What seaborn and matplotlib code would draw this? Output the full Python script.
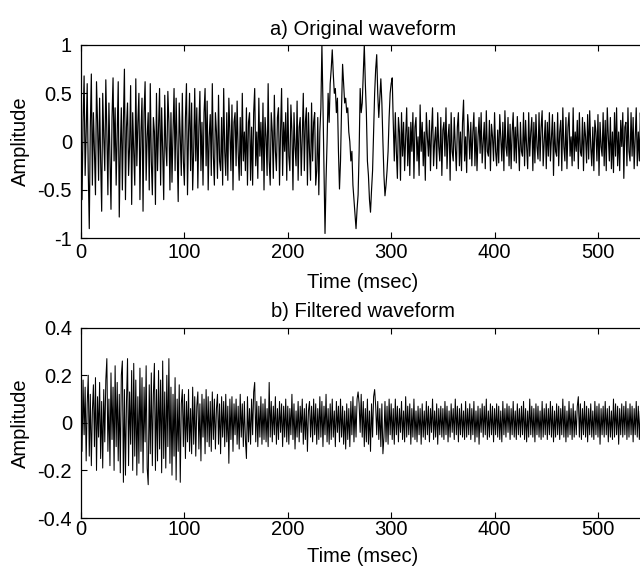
import numpy as np
import pandas as pd
import matplotlib
matplotlib.use("Agg")
import matplotlib.pyplot as plt
import seaborn as sns

# ---- data ----
step_a = 1.0   # ms between transcribed samples, top panel
step_b = 1.0   # ms between transcribed samples, bottom panel

original = [
    0.25, -0.6, 0.2, 0.68, -0.35, 0.1, 0.6, -0.3, -0.9, 0.15, 0.7, -0.45, 0.3, -0.1, -0.55, 0.62, 0.2, -0.4, 0.45, -0.2,
    -0.72, 0.5, 0.05, -0.3, 0.64, 0.1, -0.55, 0.4, -0.15, -0.7, 0.25, 0.66, -0.2, 0.35, -0.45, 0.1, 0.62, -0.78, -0.1, 0.35,
    -0.5, 0.2, 0.75, -0.6, 0.15, 0.4, -0.35, -0.05, 0.58, -0.65, 0.3, -0.1, -0.45, 0.65, -0.25, 0.2, 0.5, -0.6, 0.1, 0.45,
    -0.72, 0.3, 0.62, -0.4, 0.05, 0.3, -0.5, 0.6, -0.2, -0.55, 0.25, 0.1, -0.65, 0.5, -0.3, 0.15, 0.55, -0.45, 0.35, -0.1,
    -0.6, 0.48, -0.05, -0.25, 0.52, 0.2, -0.5, 0.3, -0.42, 0.1, 0.55, -0.3, 0.45, -0.1, -0.62, 0.4, 0.05, -0.35, 0.5, -0.2,
    -0.45, 0.25, 0.6, -0.55, 0.1, 0.5, -0.3, 0.4, -0.5, -0.1, 0.55, -0.2, 0.35, -0.48, 0.15, 0.52, -0.3, 0.2, -0.45, 0.3,
    0.55, -0.25, 0.42, -0.5, 0.05, 0.28, -0.35, 0.6, -0.15, -0.45, 0.3, 0.1, -0.38, 0.48, -0.2, -0.3, 0.25, -0.45, 0.55, -0.1,
    -0.35, 0.3, -0.4, 0.45, 0.1, -0.3, 0.38, -0.5, 0.2, 0.3, -0.25, 0.42, -0.1, -0.4, 0.25, -0.35, 0.5, -0.2, 0.1, -0.3,
    0.35, -0.45, 0.2, 0.3, -0.4, 0.15, -0.45, 0.3, 0.55, -0.25, 0.1, -0.38, 0.45, -0.15, 0.2, -0.3, 0.4, -0.5, 0.25, 0.05,
    -0.35, 0.6, -0.2, -0.45, 0.3, 0.1, -0.38, 0.48, -0.1, -0.3, 0.25, 0.35, -0.45, 0.1, 0.55, -0.35, 0.2, -0.1, 0.3, -0.4,
    0.45, -0.15, -0.3, 0.38, 0.1, -0.5, 0.3, -0.05, -0.25, 0.42, -0.4, 0.15, 0.25, -0.35, 0.05, 0.5, -0.3, 0.2, 0.35, -0.45,
    0.3, -0.1, -0.4, 0.4, -0.2, 0.2, 0.3, -0.45, -0.3, 0.25, -0.55, 0.1, 0.35, 1.0, 0.4, -0.3, -0.95, -0.4, 0.0, 0.5,
    0.2, 0.6, 0.75, 0.95, 0.7, 0.5, 0.55, 0.3, 0.45, -0.1, -0.49, -0.2, 0.35, 0.8, 0.6, 0.4, 0.45, 0.3, 0.35, 0.1,
    0.0, -0.2, -0.1, -0.45, -0.6, -0.75, -0.9, -0.7, -0.55, -0.1, 0.55, 0.3, 0.4, 0.7, 1.0, 0.6, 0.3, -0.2, -0.35, -0.6,
    -0.73, -0.5, -0.3, 0.1, 0.5, 0.75, 0.9, 0.5, 0.25, 0.45, 0.65, 0.4, 0.0, -0.35, -0.56, -0.45, -0.3, -0.1, 0.25, 0.5,
    0.6, 0.66, 0.2, -0.2, 0.3, -0.1, -0.38, 0.25, 0.1, -0.4, 0.3, -0.15, 0.2, -0.3, 0.05, 0.35, -0.25, 0.15, -0.35, 0.2,
    -0.1, 0.3, -0.38, 0.15, 0.25, -0.2, 0.05, -0.35, 0.38, -0.1, 0.2, -0.25, 0.1, -0.4, 0.3, 0.05, -0.15, 0.22, -0.3, 0.1,
    0.35, -0.25, 0.0, 0.15, -0.28, 0.3, -0.05, -0.2, 0.25, -0.35, 0.12, 0.2, -0.15, 0.35, -0.28, 0.05, 0.18, -0.4, 0.3, -0.1,
    -0.2, 0.25, -0.05, -0.3, 0.15, 0.3, -0.25, 0.1, -0.3, 0.2, 0.43, -0.2, 0.05, -0.32, 0.28, 0.1, -0.18, 0.2, -0.25, 0.1,
    0.3, -0.25, 0.15, -0.3, 0.05, 0.25, -0.12, 0.3, -0.22, 0.0, 0.2, -0.28, 0.32, -0.1, -0.15, 0.22, -0.3, 0.18, 0.05, -0.2,
    0.3, -0.1, -0.25, 0.12, -0.22, 0.28, 0.05, -0.2, 0.2, -0.3, 0.32, -0.05, -0.15, 0.25, -0.25, 0.18, -0.28, 0.1, 0.3, -0.2,
    0.15, -0.22, 0.26, 0.0, -0.3, 0.2, -0.1, -0.15, 0.3, -0.25, 0.22, -0.05, -0.28, 0.3, -0.15, 0.1, 0.25, -0.3, 0.2, -0.22,
    0.28, -0.05, -0.18, 0.3, -0.2, 0.15, 0.32, -0.25, 0.0, 0.22, -0.28, 0.2, -0.15, 0.3, -0.2, 0.05, 0.28, -0.35, 0.2, -0.1,
    -0.15, 0.3, -0.25, 0.1, 0.22, -0.3, 0.35, -0.05, -0.2, 0.25, -0.28, 0.15, 0.3, -0.15, 0.05, -0.25, 0.35, -0.2, 0.1, -0.1,
    0.22, -0.28, 0.3, -0.1, -0.15, 0.25, -0.3, 0.2, 0.05, -0.22, 0.28, -0.18, 0.32, -0.05, -0.25, 0.15, -0.3, 0.22, 0.1, -0.2,
    0.28, -0.35, 0.2, -0.05, -0.15, 0.3, -0.25, 0.22, -0.3, 0.35, 0.05, -0.2, 0.25, -0.28, 0.1, -0.32, 0.3, -0.15, 0.35, -0.25,
    0.1, -0.3, 0.22, -0.05, 0.3, -0.38, 0.15, 0.2, -0.25, 0.35, -0.1, -0.2, 0.3, -0.15, 0.25, -0.28, 0.05, 0.35, -0.25, 0.1,
    -0.2, 0.3, -0.1, 0.15, 0.05,
]

filtered = [
    0.10, -0.12, 0.18, -0.05, 0.15, -0.16, 0.08, 0.20, -0.14, 0.12, -0.18, 0.05, 0.16, -0.10, 0.19, -0.20, 0.11, -0.06, 0.17, -0.15, 0.09, -0.19, 0.14, -0.08, 0.18,
    0.27, -0.12, 0.10, -0.18, 0.21, -0.07, 0.15, -0.20, 0.24, -0.10, 0.17, -0.16, 0.12, -0.21, 0.20, 0.26, -0.25, 0.14, -0.22, 0.09, 0.27, -0.18, 0.13, -0.09, 0.22,
    -0.20, 0.25, -0.14, 0.18, -0.22, 0.11, -0.17, 0.23, -0.12, 0.19, -0.21, 0.15, -0.08, 0.24, -0.19, -0.26, 0.16, -0.13, 0.21, -0.18, 0.12, 0.25, -0.20, 0.14, -0.16,
    0.22, -0.11, 0.18, -0.21, 0.26, -0.15, 0.13, -0.19, 0.20, -0.10, 0.27, -0.17, 0.15, -0.22, 0.12, -0.14, 0.19, -0.24, 0.10, -0.12, 0.16, -0.25, 0.08, 0.14, -0.10,
    0.12, -0.15, 0.09, -0.08, 0.14, -0.12, 0.06, -0.13, 0.15, -0.09, 0.11, -0.14, 0.07, 0.13, -0.11, 0.08, -0.16, 0.12, -0.06, 0.10, -0.13, 0.14, -0.08, 0.11, -0.10,
    0.09, -0.12, 0.13, -0.07, 0.10, -0.11, 0.06, 0.12, -0.09, 0.08, -0.13, 0.11, -0.06, 0.09, -0.10, 0.12, -0.08, 0.07, -0.17, 0.10, -0.07, 0.11, -0.12, 0.08, -0.05,
    0.10, -0.09, 0.07, -0.11, 0.12, -0.06, 0.08, -0.10, 0.09, -0.07, -0.15, 0.11, -0.08, 0.06, -0.09, 0.10, -0.05, 0.13, 0.17, -0.08, 0.09, -0.10, 0.07, -0.06, 0.11,
    -0.09, 0.08, -0.07, 0.10, -0.08, 0.06, -0.10, 0.17, -0.06, 0.09, -0.08, 0.07, -0.05, 0.11, -0.09, 0.06, -0.07, 0.09, -0.04, 0.08, -0.10, 0.07, -0.06, 0.10, -0.08,
    0.07, -0.09, 0.06, -0.05, 0.12, -0.07, 0.08, -0.11, 0.05, -0.06, 0.09, -0.08, 0.07, -0.04, 0.10, -0.09, 0.06, -0.07, 0.08, -0.12, 0.05, 0.09, -0.06, 0.07, -0.08,
    0.10, -0.05, 0.08, -0.09, 0.06, -0.07, 0.11, -0.06, 0.09, -0.10, 0.07, -0.05, 0.12, -0.08, 0.06, -0.09, 0.08, -0.07, 0.10, -0.06, 0.05, -0.10, 0.09, -0.04, 0.07,
    -0.08, 0.10, -0.06, 0.07, -0.09, 0.05, -0.11, 0.08, -0.07, 0.06, -0.10, 0.09, -0.05, 0.11, -0.08, 0.07, -0.06, 0.10, 0.13, 0.08, -0.04, 0.12, -0.06, 0.09, -0.10,
    0.06, -0.08, 0.10, -0.09, 0.05, -0.12, 0.08, -0.06, 0.11, 0.14, 0.07, -0.05, 0.09, -0.07, 0.06, -0.10, 0.08, -0.13, -0.06, 0.09, -0.08, 0.07, -0.09, 0.10, -0.05,
    0.08, -0.07, 0.06, -0.09, 0.10, -0.05, 0.07, -0.08, 0.06, -0.04, 0.09, -0.07, 0.05, -0.08, 0.11, -0.06, 0.07, -0.05, 0.08, -0.09, 0.06, -0.06, 0.10, -0.07, 0.05,
    -0.08, 0.07, -0.05, 0.06, -0.09, 0.08, -0.06, 0.05, -0.07, 0.09, -0.05, 0.07, -0.08, 0.06, -0.04, 0.10, -0.07, 0.05, -0.06, 0.08, -0.09, 0.06, -0.05, 0.07, -0.06,
    0.06, -0.07, 0.09, -0.05, 0.07, -0.08, 0.05, -0.06, 0.08, -0.04, 0.06, -0.07, 0.10, -0.05, 0.07, -0.08, 0.06, -0.05, 0.08, -0.06, 0.05, -0.07, 0.09, -0.06, 0.06,
    -0.05, 0.08, -0.07, 0.06, -0.05, 0.09, -0.08, 0.05, -0.06, 0.07, -0.09, 0.06, -0.04, 0.08, -0.06, 0.07, -0.05, 0.10, -0.07, 0.05, -0.06, 0.08, -0.05, 0.07, -0.08,
    0.06, -0.05, 0.08, -0.06, 0.07, -0.07, 0.05, -0.08, 0.09, -0.05, 0.06, -0.06, 0.08, -0.04, 0.07, -0.07, 0.06, -0.05, 0.09, -0.06, 0.05, -0.07, 0.08, -0.05, 0.06,
    -0.06, 0.07, -0.05, 0.09, -0.07, 0.06, -0.08, 0.05, -0.06, 0.10, -0.05, 0.07, -0.06, 0.06, -0.08, 0.08, -0.05, 0.07, -0.06, 0.05, -0.07, 0.09, -0.06, 0.06, -0.05,
    0.08, -0.07, 0.06, -0.05, 0.09, -0.06, 0.07, -0.08, 0.05, -0.06, 0.08, -0.05, 0.07, -0.07, 0.06, -0.05, 0.10, -0.06, 0.07, -0.08, 0.05, -0.06, 0.09, -0.05, 0.06,
    -0.07, 0.08, -0.06, 0.05, -0.05, 0.07, 0.11, -0.06, 0.08, -0.07, 0.06, -0.05, 0.09, -0.06, 0.07, -0.08, 0.06, -0.05, 0.08, -0.06, 0.05, -0.07, 0.09, -0.05, 0.07,
    -0.06, 0.08, -0.09, 0.06, -0.05, 0.07, -0.06, 0.09, -0.05, 0.06, -0.08, 0.07, -0.06, 0.05, -0.07, 0.10, -0.06, 0.08, -0.05, 0.07, -0.09, 0.06, -0.05, 0.08, -0.06,
    0.07, -0.05, 0.09, -0.07, 0.06, -0.06, 0.08, -0.05, 0.07, -0.08, 0.06, -0.05, 0.09, -0.06, 0.07, -0.07, 0.05, -0.06, 0.08, -0.04,
]

titles = ["a) Original waveform", "b) Filtered waveform"]
xlabel = "Time (msec)"
ylabel = "Amplitude"
xticks = [0, 100, 200, 300, 400, 500]
yticks_a = [-1, -0.5, 0, 0.5, 1]
ytick_labels_a = ["-1", "-0.5", "0", "0.5", "1"]
yticks_b = [-0.4, -0.2, 0, 0.2, 0.4]
ytick_labels_b = ["-0.4", "-0.2", "0", "0.2", "0.4"]

df_a = pd.DataFrame({"t": np.arange(len(original)) * step_a, "amp": original})
df_b = pd.DataFrame({"t": np.arange(len(filtered)) * step_b, "amp": filtered})

# ---- style ----
sns.set_theme(style="white")
plt.rcParams["font.family"] = ["Liberation Sans", "DejaVu Sans"]
FS = 14.5

fig = plt.figure(figsize=(6.4, 5.67), dpi=100)
W, H = 640, 567
x0, x1 = 81, 644.5
ax_a = fig.add_axes([x0 / W, 1 - 238.3 / H, (x1 - x0) / W, (238.3 - 45) / H])
ax_b = fig.add_axes([x0 / W, 1 - 518 / H, (x1 - x0) / W, (518 - 327.7) / H])

sns.lineplot(data=df_a, x="t", y="amp", ax=ax_a, color="black", lw=0.85,
             estimator=None, sort=False)
sns.lineplot(data=df_b, x="t", y="amp", ax=ax_b, color="black", lw=0.75,
             estimator=None, sort=False)

for ax, title, yt, ytl, ylim, xpad, lpad in [
    (ax_a, titles[0], yticks_a, ytick_labels_a, (-1, 1), 3.2, 8.0),
    (ax_b, titles[1], yticks_b, ytick_labels_b, (-0.4, 0.4), 1.6, 5.5),
]:
    ax.set_xlim(0, 545)
    ax.set_ylim(*ylim)
    ax.set_xticks(xticks)
    ax.set_xticklabels([str(v) for v in xticks])
    ax.set_yticks(yt)
    ax.set_yticklabels(ytl)
    ax.tick_params(direction="in", length=4.5, width=0.8, top=True, right=False,
                   bottom=True, left=True, labelsize=FS, colors="black")
    ax.tick_params(axis="x", pad=xpad)
    ax.tick_params(axis="y", pad=6.5)
    for s in ax.spines.values():
        s.set_color("black")
        s.set_linewidth(0.9)
    ax.set_title(title, fontsize=FS, pad=7.5, color="black")
    ax.set_xlabel(xlabel, fontsize=FS, labelpad=lpad, color="black")
    ax.set_ylabel(ylabel, fontsize=FS, labelpad=5.4, color="black")

fig.savefig("out.png", dpi=100, facecolor="white")
